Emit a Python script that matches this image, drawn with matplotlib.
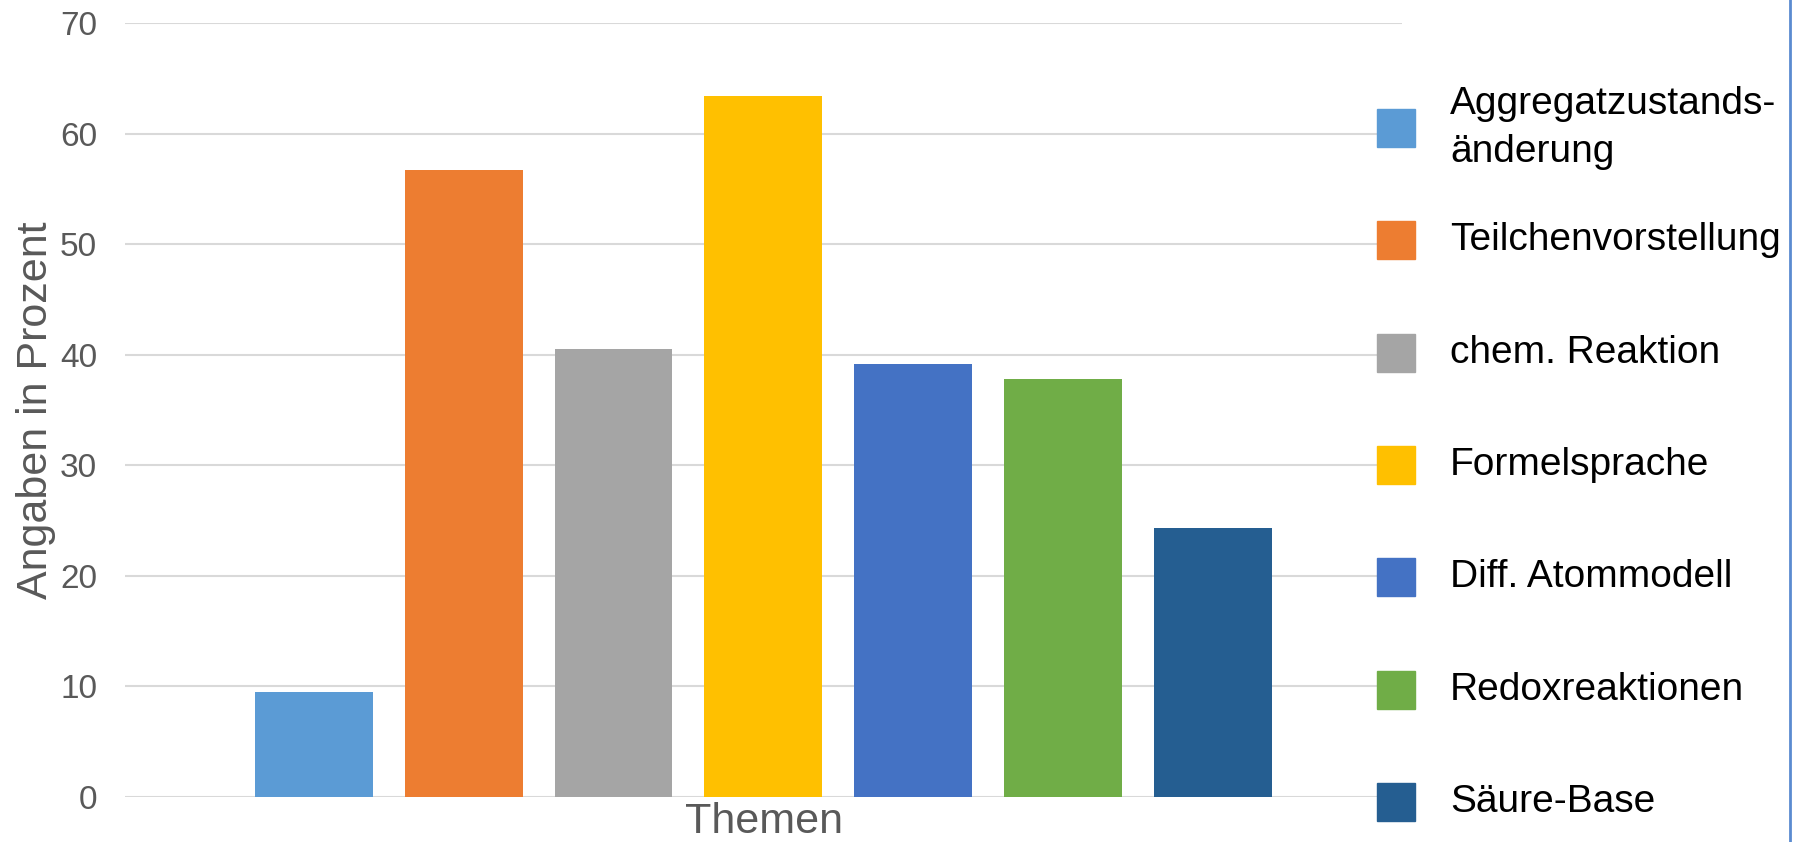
import matplotlib.pyplot as plt
from matplotlib.patches import Rectangle
from matplotlib.lines import Line2D

themen = ["Aggregatzustands-\nänderung", "Teilchenvorstellung", "chem. Reaktion",
          "Formelsprache", "Diff. Atommodell", "Redoxreaktionen", "Säure-Base"]
prozent = [9.5, 56.7, 40.5, 63.4, 39.2, 37.8, 24.3]
farben = ["#5B9BD5", "#ED7D31", "#A5A5A5", "#FFC000", "#4472C4", "#70AD47", "#255E91"]
y_ticks = [0, 10, 20, 30, 40, 50, 60, 70]

plt.rcParams['font.family'] = ['Liberation Sans', 'DejaVu Sans']

fig = plt.figure(figsize=(18, 8.42), dpi=100)
ax = fig.add_axes([0.0694, 0.0538, 0.7094, 0.9183])

pos = list(range(len(prozent)))
ax.bar(pos, prozent, width=0.787, color=farben, zorder=2)

ax.set_xlim(-1.26, 7.26)
ax.set_ylim(0, 70)
ax.set_yticks(y_ticks)
ax.set_xticks([])
ax.grid(axis='y', color='#D9D9D9', linewidth=1.5, zorder=0)
ax.tick_params(axis='y', length=0, pad=20, labelsize=24, labelcolor='#595959')
for s in ax.spines.values():
    s.set_visible(False)

ax.set_ylabel('Angaben in Prozent', fontsize=31, color='#595959')
ax.yaxis.set_label_coords(-0.054, 0.5)
fig.text(0.4244, 0.0, 'Themen', fontsize=31, color='#595959', ha='center', va='bottom')

# legend, drawn by hand so the entries are evenly spaced like in Excel
W, H = 1800, 842
for i, (name, col) in enumerate(zip(themen, farben)):
    cy = 128 + i * 112.3
    fig.add_artist(Rectangle((1377 / W, 1 - (cy + 19) / H), 38 / W, 38 / H,
                             transform=fig.transFigure, color=col))
    fig.text(1450 / W, 1 - cy / H, name, fontsize=28, va='center', ha='left',
             color='black', linespacing=1.4)

fig.add_artist(Line2D([1790 / W, 1790 / W], [0, 1], transform=fig.transFigure,
                      color='#5B8BD0', linewidth=2))

fig.savefig('out.png', dpi=100)
